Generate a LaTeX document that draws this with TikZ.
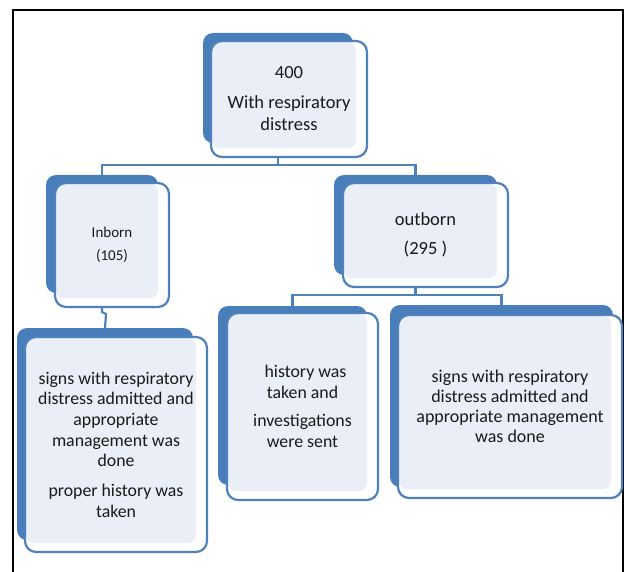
\documentclass[tikz,border=0pt]{standalone}
\usepackage{fontspec}
\setmainfont{Carlito}
\definecolor{boxblue}{HTML}{4F81BD}
\definecolor{darkblue}{HTML}{4A7EBB}
\definecolor{lightfill}{HTML}{E9EEF7}
\definecolor{textgray}{HTML}{1A1A1A}
\tikzset{
  frontbox/.style={draw=boxblue, line width=2.2pt, fill=white, rounded corners=11pt,
    inner sep=0pt, outer sep=0pt, align=center, text=textgray,
    path picture={\fill[lightfill, rounded corners=8pt]
      ([xshift=1pt,yshift=-1pt]path picture bounding box.north west) rectangle
      ([xshift=-11pt,yshift=9pt]path picture bounding box.south east);}},
  backbox/.style={fill=darkblue, rounded corners=10pt, inner sep=0pt, outer sep=0pt},
  conn/.style={draw=boxblue, line width=2.2pt},
  frameline/.style={draw=black, line width=1.8pt}
}
\begin{document}
\begin{tikzpicture}[x=1pt,y=-1pt]
\useasboundingbox (0,0) rectangle (624,572);
% outer frame
\coordinate (fbl) at (13,580);
\coordinate (ftl) at (13,10);
\coordinate (ftr) at (623,10);
\coordinate (fbr) at (623,580);
\draw[frameline] (fbl) -- (ftl) -- (ftr) -- (fbr);

% back boxes
\node[backbox, minimum width=150pt, minimum height=110pt] (topb) at (278,88) {};
\node[backbox, minimum width=112pt, minimum height=118pt] (inbb) at (102,234) {};
\node[backbox, minimum width=163pt, minimum height=100pt] (outb) at (415.5,225) {};
\node[backbox, minimum width=176pt, minimum height=212pt] (llb) at (105,434) {};
\node[backbox, minimum width=149pt, minimum height=179pt] (midb) at (292.5,395.5) {};
\node[backbox, minimum width=223pt, minimum height=182pt] (rtb) at (501.5,396) {};

% connectors
\draw[conn] (topb.south) -- ++(0,22) coordinate (bus1) -| (inbb.north);
\draw[conn] (bus1) -| (outb.north);
\draw[conn] (inbb.south) -- ++(0,19) coordinate (jog1) -- ++(4,2) coordinate (jog2) -- (llb.north);
\draw[conn] (outb.south) -- ++(0,20) coordinate (bus2) -| (midb.north);
\draw[conn] (bus2) -| (rtb.north);

% front boxes
\node[frontbox, minimum width=156pt, minimum height=116pt, font=\fontsize{18.5}{22}\selectfont] (top) at (289,99)
  {400\\[8pt]With respiratory\\distress};
\node[frontbox, minimum width=114pt, minimum height=124pt, font=\fontsize{15}{23}\selectfont] (inb) at (112,245)
  {Inborn\\(105)};
\node[frontbox, minimum width=165pt, minimum height=104pt, font=\fontsize{18.5}{29}\selectfont] (out) at (425.5,235)
  {outborn\\(295 )};
\node[frontbox, minimum width=182pt, minimum height=215pt, font=\fontsize{17.8}{20.7}\selectfont] (ll) at (116,444.5)
  {signs with respiratory\\distress admitted and\\appropriate\\management was\\done\\[9pt]proper history was\\taken};
\node[frontbox, minimum width=151pt, minimum height=187pt, font=\fontsize{17.8}{20.5}\selectfont] (mid) at (302.5,406.5)
  {\hspace*{6pt}history was\\taken and\\[8pt]investigations\\were sent};
\node[frontbox, minimum width=224pt, minimum height=183pt, font=\fontsize{18}{20}\selectfont] (rt) at (510,406.5)
  {signs with respiratory\\distress admitted and\\appropriate management\\was done};
\end{tikzpicture}
\end{document}
